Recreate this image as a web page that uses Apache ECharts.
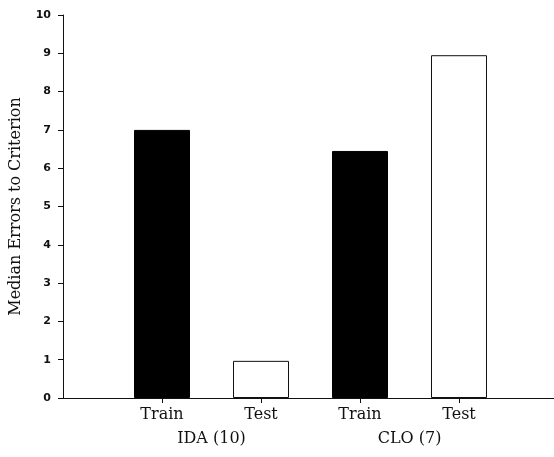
<!DOCTYPE html>
<html>
<head>
<meta charset="utf-8">
<script src="https://cdn.jsdelivr.net/npm/echarts@6/dist/echarts.min.js"></script>
<style>
  html, body { margin: 0; padding: 0; background: #fff; }
  #chart { width: 554px; height: 457px; }
</style>
</head>
<body>
<div id="chart"></div>
<script>
// positions 0..5 on the x axis, bars sit on 1..4
const categories = ['', 'Train', 'Test', 'Train', 'Test', '']
const medianErrors = ['-', 7.0, 0.97, 6.45, 8.95, '-']
const isTrain = [false, true, false, true, false, false]
// half-unit slots so the group names land between each pair of bars
const groupSlots = ['', '', '', 'IDA (10)', '', '', '', 'CLO (7)', '', '', '']
const yTicks = [0, 10, 1]

const chart = echarts.init(document.getElementById('chart'))
const serif = '"DejaVu Serif", "Liberation Serif", serif'

const option = {
    animation: false,
    backgroundColor: '#fff',
    // x axis runs a little past the right edge in the original
    grid: {left: 63, right: -4, top: 15, bottom: 59, outerBoundsMode: 'none', containLabel: false},
    xAxis: [
        {
            type: 'category',
            data: categories,
            boundaryGap: false,
            axisLine: {lineStyle: {color: '#111', width: 1}},
            axisTick: {
                length: 5,
                inside: false,
                lineStyle: {color: '#111'},
                interval: (i, v) => v !== ''
            },
            axisLabel: {
                interval: 0,
                margin: 9,
                color: '#111',
                fontFamily: serif,
                fontSize: 16
            },
            splitLine: {show: false}
        },
        {
            type: 'category',
            data: groupSlots,
            boundaryGap: false,
            position: 'bottom',
            offset: 24,
            axisLine: {show: false},
            axisTick: {show: false},
            axisLabel: {
                interval: 0,
                margin: 9,
                color: '#111',
                fontFamily: serif,
                fontSize: 16
            },
            splitLine: {show: false}
        }
    ],
    yAxis: {
        type: 'value',
        min: yTicks[0],
        max: yTicks[1],
        interval: yTicks[2],
        name: 'Median Errors to Criterion',
        nameLocation: 'middle',
        nameGap: 39,
        nameTextStyle: {color: '#111', fontFamily: serif, fontSize: 16},
        axisLine: {show: true, lineStyle: {color: '#111', width: 1}},
        axisTick: {show: true, length: 5, lineStyle: {color: '#111'}},
        axisLabel: {
            color: '#111',
            fontFamily: '"DejaVu Sans", sans-serif',
            fontWeight: 'bold',
            fontSize: 11,
            margin: 12
        },
        splitLine: {show: false}
    },
    series: [
        {
            type: 'bar',
            xAxisIndex: 0,
            barWidth: 56,
            data: medianErrors.map((v, i) => ({
                value: v,
                itemStyle: isTrain[i]
                    ? {color: '#000', borderColor: '#000', borderWidth: 1}
                    : {color: '#fff', borderColor: '#111', borderWidth: 1}
            }))
        }
    ]
}

chart.setOption(option)
</script>
</body>
</html>
